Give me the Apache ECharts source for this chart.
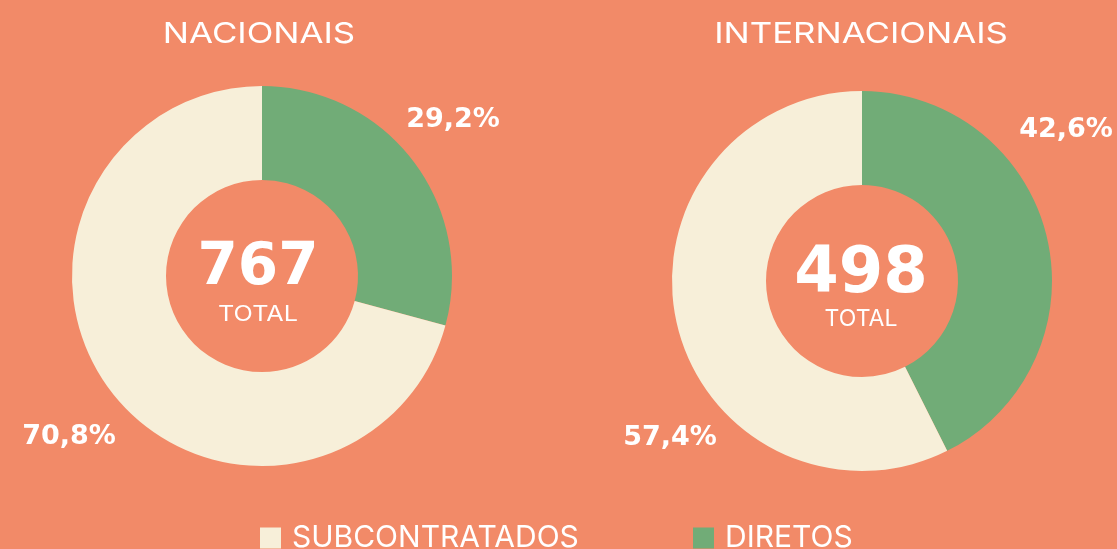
<!DOCTYPE html>
<html>
<head>
<meta charset="utf-8">
<title>Nacionais e Internacionais</title>
<script src="https://cdn.jsdelivr.net/npm/echarts@6/dist/echarts.min.js"></script>
<style>
  html, body { margin: 0; padding: 0; background: #F28A68; }
  #chart { width: 1117px; height: 549px; }
</style>
</head>
<body>
<div id="chart"></div>
<script>
// Share of workers by contract type, per group (percent)
const groups = ['NACIONAIS', 'INTERNACIONAIS'];
const categories = ['DIRETOS', 'SUBCONTRATADOS'];
const diretos = [29.2, 42.6];
const subcontratados = [70.8, 57.4];
const totals = [767, 498];

const BG = '#F28A68';
const GREEN = '#71AC77';
const CREAM = '#F7EFD9';
const WHITE = '#FFFFFF';
const colors = { DIRETOS: GREEN, SUBCONTRATADOS: CREAM };

// Donut geometry and text placement for each group
const centers = [[262, 276], [862, 281]];
const titleX = [259, 861];
const totalX = [258, 861];
const totalNumY = [269, 275];
const totalNumSize = [58, 64];
const totalWordY = [315, 319];
const totalWordSize = [21, 23];
const totalWordScale = [1.2, 1.0];
// Percentage label anchors: [diretos, subcontratados]
const labelAnchors = [
  [[453, 120], [69, 437]],
  [[1066, 130], [670, 438]]
];

const fmt = v => v.toFixed(1).replace('.', ',') + '%';

const chart = echarts.init(document.getElementById('chart'));

const series = groups.map((g, i) => ({
  type: 'pie',
  name: g,
  center: centers[i],
  radius: [96, 190],
  startAngle: 90,
  clockwise: true,
  silent: true,
  emphasis: { disabled: true },
  data: [
    { name: categories[0], value: diretos[i], itemStyle: { color: colors.DIRETOS } },
    { name: categories[1], value: subcontratados[i], itemStyle: { color: colors.SUBCONTRATADOS } }
  ],
  label: {
    show: true,
    position: 'outside',
    formatter: p => fmt(p.value),
    color: WHITE,
    fontFamily: 'DejaVu Sans',
    fontWeight: 'bold',
    fontSize: 27,
    overflow: 'none'
  },
  labelLine: { show: false },
  labelLayout: p => {
    const a = labelAnchors[i][p.dataIndex];
    return { x: a[0], y: a[1], align: 'center', verticalAlign: 'middle' };
  }
}));

const graphics = [];
groups.forEach((g, i) => {
  graphics.push({
    type: 'text', x: titleX[i], y: 34, scaleX: 1.2, silent: true,
    style: { text: g, fill: WHITE, font: '400 29px Inter', textAlign: 'center', textVerticalAlign: 'middle' }
  });
  graphics.push({
    type: 'text', x: totalX[i], y: totalNumY[i], silent: true,
    style: { text: String(totals[i]), fill: WHITE, font: 'bold ' + totalNumSize[i] + 'px "DejaVu Sans"', textAlign: 'center', textVerticalAlign: 'middle' }
  });
  graphics.push({
    type: 'text', x: totalX[i], y: totalWordY[i], scaleX: totalWordScale[i], silent: true,
    style: { text: 'TOTAL', fill: WHITE, font: '400 ' + totalWordSize[i] + 'px Inter', textAlign: 'center', textVerticalAlign: 'middle' }
  });
});

const legendLeft = [260, 693];
const legends = ['SUBCONTRATADOS', 'DIRETOS'].map((name, k) => ({
  left: legendLeft[k],
  top: 523,
  padding: 0,
  icon: 'rect',
  itemWidth: 21,
  itemHeight: 21,
  selectedMode: false,
  data: [name],
  textStyle: { color: WHITE, fontFamily: 'Inter', fontSize: 30, lineHeight: 21, padding: [0, 0, 0, 6] }
}));

chart.setOption({
  backgroundColor: BG,
  animation: false,
  legend: legends,
  series: series,
  graphic: graphics
});
</script>
</body>
</html>
